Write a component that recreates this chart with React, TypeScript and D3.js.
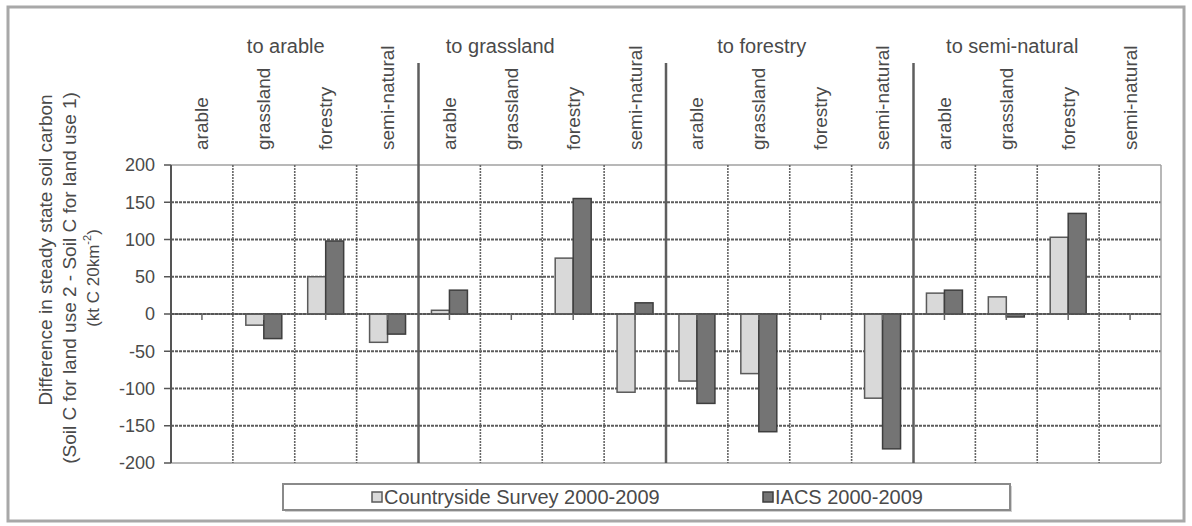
import React from "react";
import * as d3 from "d3";

const groups = ["to arable", "to grassland", "to forestry", "to semi-natural"];
const landUses = ["arable", "grassland", "forestry", "semi-natural"];
const csValues = [0, -15, 50, -38, 5, 0, 75, -105, -90, -80, 0, -113, 28, 23, 103, 0];
const iacsValues = [0, -33, 98, -27, 32, 0, 155, 15, -120, -158, 0, -181, 32, -4, 135, 0];
const yTicks = [-200, -150, -100, -50, 0, 50, 100, 150, 200];
const seriesNames = ["Countryside Survey 2000-2009", "IACS 2000-2009"];
const titleLines = [
  "Difference in steady state soil carbon",
  "(Soil C for land use 2 - Soil C for land use 1)",
];

const W = 1192;
const H = 526;
const font = "'Liberation Sans', Arial, sans-serif";
const textColor = "#4a4a4a";

export default function App() {
  const cats = d3.range(groups.length * landUses.length);
  const x = d3.scaleBand<number>().domain(cats).range([171, 1161]).padding(0);
  const y = d3.scaleLinear().domain([-200, 200]).range([463, 165]);
  const inner = d3
    .scaleBand<number>()
    .domain([0, 1])
    .range([0, x.bandwidth()])
    .paddingInner(0)
    .paddingOuter(0.72);
  const series = [csValues, iacsValues];
  const fills = ["#d9d9d9", "#747474"];
  const strokes = ["#5a5a5a", "#3e3e3e"];
  const groupShift = [-9, -42, -28, -25];
  const [x0, x1] = x.range();

  return (
    <svg
      width={W}
      height={H}
      style={{ position: "absolute", left: 0, top: 0, background: "#fff" }}
      fontFamily={font}
    >
      <rect x={8} y={7} width={1176} height={514} fill="#fff" stroke="#a8a8a8" strokeWidth={3} />

      {/* horizontal gridlines */}
      {yTicks.map((t) => (
        <line
          key={"h" + t}
          x1={x0}
          x2={x1}
          y1={y(t)}
          y2={y(t)}
          stroke={t === 200 || t === -200 ? "#a0a0a0" : "#5c5c5c"}
          strokeWidth={t === 200 || t === -200 ? 1.5 : 2.2}
          strokeDasharray={t === 200 || t === -200 ? undefined : "3,1"}
        />
      ))}
      {/* vertical category lines */}
      {cats.slice(1).map((c) =>
        c % landUses.length === 0 ? null : (
          <line
            key={"v" + c}
            x1={x(c)}
            x2={x(c)}
            y1={y(200)}
            y2={y(-200)}
            stroke="#666"
            strokeWidth={1.6}
            strokeDasharray="2,1"
          />
        )
      )}
      {/* right border */}
      <line x1={x1} x2={x1} y1={y(200)} y2={y(-200)} stroke="#a0a0a0" strokeWidth={1.5} />

      {/* bars */}
      {series.map((vals, s) =>
        vals.map((v, i) =>
          v === 0 ? null : (
            <rect
              key={"b" + s + "-" + i}
              x={(x(i) as number) + (inner(s) as number)}
              y={Math.min(y(v), y(0))}
              width={inner.bandwidth()}
              height={Math.abs(y(v) - y(0))}
              fill={fills[s]}
              stroke={strokes[s]}
              strokeWidth={1.5}
            />
          )
        )
      )}

      {/* zero line */}
      <line x1={x0} x2={x1} y1={y(0)} y2={y(0)} stroke="#555" strokeWidth={1.5} />
      {/* category ticks */}
      {cats.map((c) => (
        <line
          key={"ct" + c}
          x1={(x(c) as number) + x.bandwidth() / 2}
          x2={(x(c) as number) + x.bandwidth() / 2}
          y1={y(0)}
          y2={y(0) + 6}
          stroke="#666"
          strokeWidth={1.5}
        />
      ))}

      {/* group separators */}
      {groups.slice(1).map((g, gi) => {
        const gx = x((gi + 1) * landUses.length) as number;
        return (
          <line key={"g" + gi} x1={gx} x2={gx} y1={63} y2={y(-200)} stroke="#5e5e5e" strokeWidth={2.5} />
        );
      })}

      {/* y axis */}
      <line x1={x0} x2={x0} y1={y(200)} y2={y(-200)} stroke="#555" strokeWidth={2} />
      {yTicks.map((t) => (
        <g key={"yt" + t}>
          <line x1={x0 - 7} x2={x0} y1={y(t)} y2={y(t)} stroke="#555" strokeWidth={1.5} />
          <text
            x={x0 - 16}
            y={y(t)}
            dy="0.35em"
            textAnchor="end"
            fontSize={18}
            fill={textColor}
          >
            {t}
          </text>
        </g>
      ))}

      {/* group labels */}
      {groups.map((g, gi) => {
        const start = x(gi * landUses.length) as number;
        const cx = start + (x.bandwidth() * landUses.length) / 2 + groupShift[gi];
        return (
          <text key={"gl" + gi} x={cx} y={53} textAnchor="middle" fontSize={20} fill={textColor}>
            {g}
          </text>
        );
      })}

      {/* category labels */}
      {cats.map((c) => {
        const cx = (x(c) as number) + x.bandwidth() / 2;
        return (
          <text
            key={"cl" + c}
            transform={`translate(${cx},150) rotate(-90)`}
            dominantBaseline="central"
            textAnchor="start"
            fontSize={19}
            fill={textColor}
          >
            {landUses[c % landUses.length]}
          </text>
        );
      })}

      {/* y title */}
      <text transform="translate(45,250) rotate(-90)" textAnchor="middle" dominantBaseline="central" fontSize={19} fill={textColor}>
        {titleLines[0]}
      </text>
      <text transform="translate(69,278) rotate(-90)" textAnchor="middle" dominantBaseline="central" fontSize={19} fill={textColor}>
        {titleLines[1]}
      </text>
      <text transform="translate(93,278) rotate(-90)" textAnchor="middle" dominantBaseline="central" fontSize={17} fill={textColor}>
        (kt C 20km
        <tspan baselineShift="super" fontSize={11}>-2</tspan>)
      </text>

      {/* legend */}
      <rect x={285} y={486} width={727} height={26} fill="#d0d0d0" />
      <rect x={283} y={484} width={727} height={26} fill="#fff" stroke="#8a8a8a" strokeWidth={2} />
      {seriesNames.map((n, i) => {
        const lx = [372, 763][i];
        return (
          <g key={"lg" + i}>
            <rect x={lx} y={492} width={10} height={10} fill={fills[i]} stroke={strokes[i]} strokeWidth={1.5} />
            <text x={lx + 12} y={497} dy="0.35em" fontSize={20} fill={textColor}>
              {n}
            </text>
          </g>
        );
      })}
    </svg>
  );
}
